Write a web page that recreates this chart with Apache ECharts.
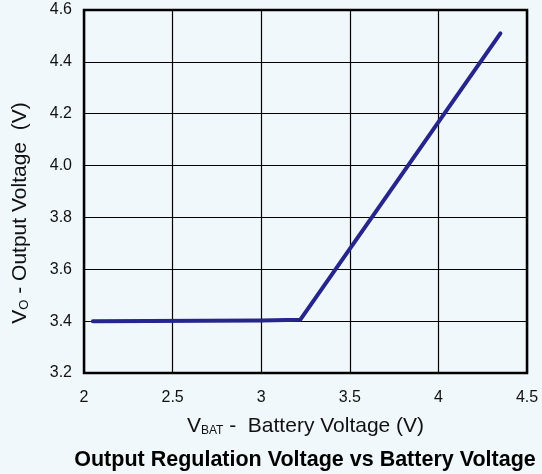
<!DOCTYPE html>
<html>
<head>
<meta charset="utf-8">
<script src="https://cdn.jsdelivr.net/npm/echarts@6/dist/echarts.min.js"></script>
<style>
  html, body { margin: 0; padding: 0; background: #f1f8fb; }
  #chart { width: 542px; height: 474px; }
</style>
</head>
<body>
<div id="chart"></div>
<script>
// battery voltage (V) vs output voltage (V)
var vbat = [2.05, 3.0, 3.22, 4.35];
var vout = [3.40, 3.402, 3.405, 4.51];
var xTicks = [2, 2.5, 3, 3.5, 4, 4.5];
var yTicks = [3.2, 3.4, 3.6, 3.8, 4.0, 4.2, 4.4, 4.6];

var font = 'Liberation Sans, Arial, sans-serif';
var chart = echarts.init(document.getElementById('chart'));

var points = vbat.map(function (x, i) { return [x, vout[i]]; });

var option = {
  backgroundColor: '#f1f8fb',
  animation: false,
  grid: { left: 84, right: 15, top: 10, bottom: 101, show: true, borderColor: '#000', borderWidth: 2.5 },
  xAxis: {
    type: 'value',
    min: xTicks[0],
    max: xTicks[xTicks.length - 1],
    interval: 0.5,
    axisLine: { show: false },
    axisTick: { show: false },
    splitLine: { lineStyle: { color: '#000', width: 1.2 } },
    axisLabel: { color: '#111', fontSize: 16, fontFamily: font, margin: 17 },
    name: '{v|V}{s|BAT}{v| -  Battery Voltage (V)}',
    nameLocation: 'middle',
    nameGap: 43,
    nameTextStyle: {
      rich: {
        v: { fontSize: 21, color: '#111', fontFamily: font },
        s: { fontSize: 12, color: '#111', fontFamily: font, padding: [9, 0, 0, 0] }
      }
    }
  },
  yAxis: {
    type: 'value',
    min: yTicks[0],
    max: yTicks[yTicks.length - 1],
    interval: 0.2,
    axisLine: { show: false },
    axisTick: { show: false },
    splitLine: { lineStyle: { color: '#000', width: 1.2 } },
    axisLabel: {
      color: '#111', fontSize: 16, fontFamily: font, margin: 12,
      formatter: function (v) { return v.toFixed(1); }
    }
  },
  graphic: [
    {
      type: 'text',
      x: 20,
      y: 213,
      rotation: Math.PI / 2,
      style: {
        text: '{v|V}{s|O}{v| - Output Voltage  (V)}',
        align: 'center',
        verticalAlign: 'middle',
        rich: {
          v: { fontSize: 21, fill: '#111', fontFamily: font },
          s: { fontSize: 13, fill: '#111', fontFamily: font, padding: [9, 0, 0, 0] }
        }
      }
    },
    {
      type: 'text',
      x: 305,
      y: 460,
      style: {
        text: 'Output Regulation Voltage vs Battery Voltage',
        align: 'center',
        verticalAlign: 'middle',
        fontSize: 21.5,
        fontWeight: 'bold',
        fill: '#000',
        fontFamily: font
      }
    }
  ],
  series: [
    {
      type: 'line',
      data: points,
      symbol: 'none',
      lineStyle: { color: '#25258c', width: 4, cap: 'round', join: 'round' }
    }
  ]
};

chart.setOption(option);
</script>
</body>
</html>
